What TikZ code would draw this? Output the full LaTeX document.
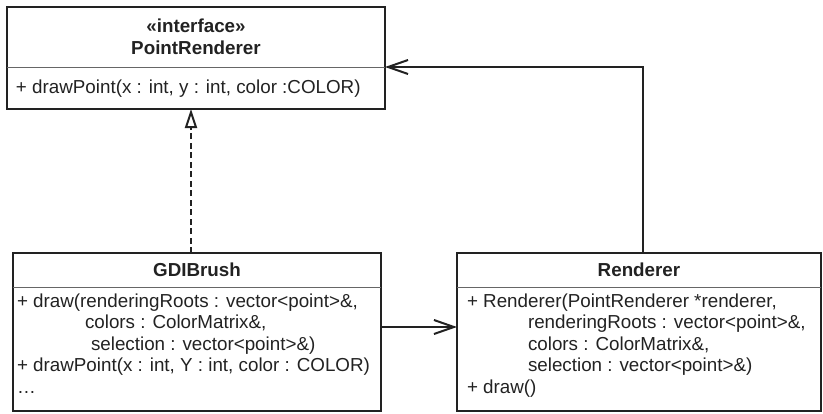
\documentclass[tikz,border=0pt]{standalone}
\usepackage{fontspec}
\setmainfont{Liberation Sans}
\usetikzlibrary{arrows.meta}
\definecolor{ink}{HTML}{222222}
\definecolor{rule}{HTML}{666666}
\begin{document}
\begin{tikzpicture}[x=1pt,y=-1pt,
  umlbox/.style={draw=ink, line width=2.2pt, rectangle, inner sep=0pt, outer sep=0pt},
  divider/.style={draw=rule, line width=1pt},
  txt/.style={inner sep=0pt, outer sep=0pt, text=ink, font=\fontsize{18.8}{22}\selectfont},
  ttl/.style={txt, font=\fontsize{18.8}{22}\selectfont\bfseries},
  realize/.style={draw=ink, line width=2pt, dash pattern=on 6pt off 3.5pt, -{Triangle[open, length=19pt, width=12pt, line width=2pt]}},
  assoc/.style={draw=ink, line width=2pt, -{Straight Barb[length=20pt, width=14pt, line width=2pt]}}
]
\useasboundingbox (0,0) rectangle (823,413);
% boxes
\node[umlbox, minimum width=378pt, minimum height=102pt] (pr) at (196,58) {};
\node[umlbox, minimum width=368pt, minimum height=158pt] (gdi) at (197,332) {};
\node[umlbox, minimum width=364pt, minimum height=158pt] (ren) at (639,332) {};
% dividers
\coordinate (prdivW) at (7,67);
\coordinate (prdivE) at (385,67);
\coordinate (gdidivW) at (13,287);
\coordinate (gdidivE) at (381,287);
\coordinate (rendivW) at (457,287);
\coordinate (rendivE) at (821,287);
\draw[divider] (prdivW) -- (prdivE);
\draw[divider] (gdidivW) -- (gdidivE);
\draw[divider] (rendivW) -- (rendivE);
% PointRenderer texts
\node[ttl, anchor=base] (prst) at (196,32) {«interface»};
\node[ttl, anchor=base] (prname) at (196,54) {PointRenderer};
\node[txt, anchor=base west] (prm) at (16,93) {+ drawPoint(x : int, y : int, color :COLOR)};
% GDIBrush texts
\node[ttl, anchor=base] (gname) at (197,276) {GDIBrush};
\node[txt, anchor=base west] (g1) at (17,307) {+ draw(renderingRoots : vector<point>\&,};
\node[txt, anchor=base west] (g2) at (85,328.5) {colors : ColorMatrix\&,};
\node[txt, anchor=base west] (g3) at (91,350) {selection : vector<point>\&)};
\node[txt, anchor=base west] (g4) at (17,371.5) {+ drawPoint(x : int, Y : int, color : COLOR)};
\node[txt, anchor=base west] (g5) at (17,393) {…};
% Renderer texts
\node[ttl, anchor=base] (rname) at (639,276) {Renderer};
\node[txt, anchor=base west] (r1) at (467,307) {+ Renderer(PointRenderer *renderer,};
\node[txt, anchor=base west] (r2) at (528,328.5) {renderingRoots : vector<point>\&,};
\node[txt, anchor=base west] (r3) at (528,350) {colors : ColorMatrix\&,};
\node[txt, anchor=base west] (r4) at (528,371.5) {selection : vector<point>\&)};
\node[txt, anchor=base west] (r5) at (467,393) {+ draw()};
% connectors
\draw[realize] ([xshift=-6pt]gdi.north) -- ([xshift=-6pt]gdi.north |- pr.south);
\draw[assoc] ([xshift=4pt]ren.north) |- (prdivE);
\draw[assoc] ([yshift=5pt]gdi.east) -- ([yshift=5pt]ren.west);
\end{tikzpicture}
\end{document}
